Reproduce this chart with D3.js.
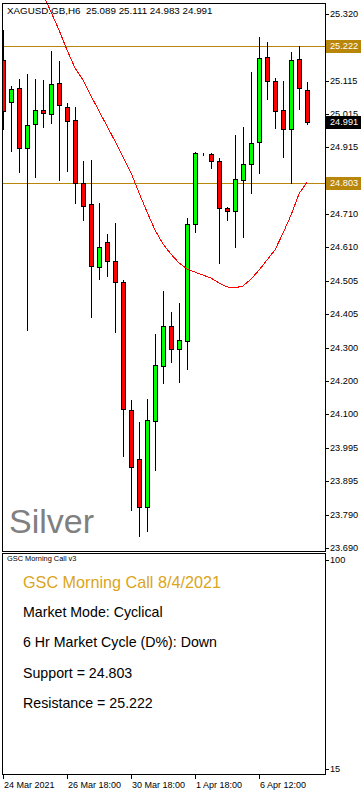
<!DOCTYPE html>
<html>
<head>
<meta charset="utf-8">
<style>
  body { margin: 0; background: #fff; }
  svg { display: block; font-family: "Liberation Sans", Arial, sans-serif; }
  .wick, .frame, .tick { shape-rendering: crispEdges; }
</style>
</head>
<body>
<script src="https://cdn.jsdelivr.net/npm/d3@7"></script>
<script>

const width = 364;
const height = 792;

// quote header
const symbolName = 'XAGUSD.GB,H6';

// H6 candles, oldest first
const opens  = [25.180, 25.051, 25.094, 24.911, 24.984, 25.027, 25.015, 25.109, 25.036, 24.996,
                24.804, 24.740, 24.548, 24.624, 24.566, 24.502, 24.111, 23.961, 23.815, 24.077,
                24.245, 24.367, 24.297, 24.322, 24.679, 24.893, 24.893, 24.871, 24.728, 24.719,
                24.813, 24.862, 24.929, 25.189, 25.116, 25.027, 24.969, 25.183, 25.089];
const highs  = [25.271, 25.100, 25.122, 25.137, 25.122, 25.119, 25.207, 25.177, 25.048, 25.036,
                24.871, 24.874, 24.743, 24.648, 24.682, 24.508, 24.142, 24.074, 24.145, 24.343,
                24.474, 24.410, 24.438, 24.697, 24.899, 24.896, 24.896, 24.880, 24.731, 24.951,
                24.975, 25.143, 25.250, 25.235, 25.125, 25.116, 25.204, 25.222, 25.111];
const lows   = [24.969, 24.902, 24.838, 24.355, 24.822, 24.975, 24.987, 24.813, 24.841, 24.743,
                24.691, 24.395, 24.511, 24.520, 24.349, 23.971, 23.806, 23.726, 23.742, 23.928,
                24.193, 24.258, 24.196, 24.236, 24.654, 24.890, 24.850, 24.560, 24.691, 24.609,
                24.639, 24.774, 24.835, 25.061, 24.972, 24.883, 24.804, 25.030, 24.983];
const closes = [25.024, 25.091, 24.911, 24.981, 25.027, 25.018, 25.106, 25.042, 24.993, 24.804,
                24.734, 24.551, 24.609, 24.566, 24.502, 24.114, 23.937, 23.815, 24.081, 24.248,
                24.367, 24.297, 24.325, 24.679, 24.896, 24.893, 24.871, 24.728, 24.719, 24.816,
                24.862, 24.926, 25.186, 25.116, 25.024, 24.969, 25.180, 25.094, 24.991];

// moving average (red), null where it is off the top of the chart
const movingAvg = [null, null, null, 25.491, 25.436, 25.381, 25.326, 25.271, 25.210, 25.155,
                   25.119, 25.070, 25.024, 24.978, 24.932, 24.883, 24.835, 24.774, 24.716, 24.661,
                   24.618, 24.587, 24.560, 24.542, 24.532, 24.523, 24.514, 24.499, 24.487, 24.484,
                   24.490, 24.511, 24.538, 24.569, 24.600, 24.651, 24.706, 24.771, 24.807];

const priceTicks = [25.320, 25.115, 25.015, 24.915, 24.710, 24.610, 24.505, 24.405, 24.300,
                    24.200, 24.100, 23.995, 23.895, 23.790, 23.690];
const resistance = 25.222;
const support = 24.803;

const timeTickIndex = [0, 8, 16, 24, 32];
const timeTickLabels = ['24 Mar 2021', '26 Mar 18:00', '30 Mar 18:00', '1 Apr 18:00', '6 Apr 12:00'];

const panelTicks = [100, 15];
const panelName = 'GSC Morning Call v3';
const panelTitle = 'GSC Morning Call 8/4/2021';
const panelLines = ['Market Mode: Cyclical', '6 Hr Market Cycle (D%): Down',
                    'Support = 24.803', 'Resistance = 25.222'];

const gold = '#b8860b';

const svg = d3.select('body').append('svg')
    .attr('width', width)
    .attr('height', height);

const x = d3.scaleLinear().domain([0, opens.length - 1]).range([3, 307]);
const y = d3.scaleLinear().domain([23.690, 25.320]).range([548, 14]);
const yPanel = d3.scaleLinear().domain([15, 100]).range([769, 560]);

const px = v => Math.round(v) + 0.5;

svg.append('clipPath').attr('id', 'main-clip')
    .append('rect').attr('x', 3).attr('y', 0).attr('width', 322).attr('height', 551);

const plot = svg.append('g').attr('clip-path', 'url(#main-clip)');

// support / resistance
[resistance, support].forEach(level => {
    plot.append('line')
        .attr('class', 'tick')
        .attr('x1', 2).attr('x2', 326)
        .attr('y1', px(y(level))).attr('y2', px(y(level)))
        .style('stroke', gold);
});

// "Silver" watermark
plot.append('text')
    .attr('x', 9).attr('y', 533)
    .style('font-size', '34px')
    .style('fill', '#808080')
    .text('Silver');

// candles
const candles = plot.selectAll('g.candle')
    .data(opens.map((o, i) => ({ i, o, h: highs[i], l: lows[i], c: closes[i] })))
    .join('g')
        .attr('class', 'candle');

candles.append('line')
    .attr('class', 'wick')
    .attr('x1', d => px(x(d.i))).attr('x2', d => px(x(d.i)))
    .attr('y1', d => Math.round(y(d.h))).attr('y2', d => Math.round(y(d.l)) + 1)
    .style('stroke', '#000');

candles.append('rect')
    .attr('class', 'wick')
    .attr('x', d => Math.round(x(d.i)) - 2 + 0.5)
    .attr('width', 4)
    .attr('y', d => px(y(Math.max(d.o, d.c))))
    .attr('height', d => Math.round(y(Math.min(d.o, d.c))) - Math.round(y(Math.max(d.o, d.c))))
    .style('fill', d => d.c >= d.o ? '#00ff00' : '#ff0000')
    .style('stroke', '#000');

// moving average
const maLine = d3.line()
    .defined(d => d != null)
    .x((d, i) => x(i))
    .y(d => y(d));

plot.append('path')
    .datum(movingAvg)
    .attr('d', maLine)
    .style('fill', 'none')
    .style('stroke', '#ff0000')
    .style('stroke-width', 1)
    .style('shape-rendering', 'crispEdges');

// frames
svg.append('rect').attr('class', 'frame')
    .attr('x', 2.5).attr('y', 3.5).attr('width', 323).attr('height', 548)
    .style('fill', 'none').style('stroke', '#000');
svg.append('rect').attr('class', 'frame')
    .attr('x', 2.5).attr('y', 553.5).attr('width', 323).attr('height', 221)
    .style('fill', 'none').style('stroke', '#000');

// header
svg.append('text')
    .attr('x', 7).attr('y', 14)
    .style('font-size', '9.8px')
    .style('white-space', 'pre')
    .text(`${symbolName}  ${opens.at(-1).toFixed(3)} ${highs.at(-1).toFixed(3)} ${lows.at(-1).toFixed(3)} ${closes.at(-1).toFixed(3)}`);

// price axis
const priceAxis = svg.append('g');
priceTicks.forEach(v => {
    priceAxis.append('line').attr('class', 'tick')
        .attr('x1', 326).attr('x2', 329)
        .attr('y1', px(y(v))).attr('y2', px(y(v)))
        .style('stroke', '#000');
    priceAxis.append('text')
        .attr('x', 330).attr('y', Math.round(y(v)))
        .attr('dy', '0.36em')
        .style('font-size', '9.2px')
        .text(v.toFixed(3));
});

const priceTag = (v, bg) => {
    const yy = Math.round(y(v));
    priceAxis.append('rect')
        .attr('x', 326).attr('y', yy - 6)
        .attr('width', 35).attr('height', 13)
        .style('fill', bg);
    priceAxis.append('text')
        .attr('x', 330).attr('y', yy)
        .attr('dy', '0.36em')
        .style('font-size', '9.2px')
        .style('fill', '#fff')
        .text(v.toFixed(3));
};
priceTag(resistance, gold);
priceTag(closes.at(-1), '#000');
priceTag(support, gold);

// indicator panel
panelTicks.forEach(v => {
    svg.append('line').attr('class', 'tick')
        .attr('x1', 326).attr('x2', 329)
        .attr('y1', px(yPanel(v))).attr('y2', px(yPanel(v)))
        .style('stroke', '#000');
    svg.append('text')
        .attr('x', 330).attr('y', Math.round(yPanel(v)))
        .attr('dy', '0.36em')
        .style('font-size', '9.2px')
        .text(v);
});

svg.append('text')
    .attr('x', 7).attr('y', 561)
    .style('font-size', '7.4px')
    .text(panelName);

svg.append('text')
    .attr('x', 23).attr('y', 588)
    .style('font-size', '16.2px')
    .style('fill', '#daa520')
    .text(panelTitle);

svg.selectAll('text.panel-line')
    .data(panelLines)
    .join('text')
        .attr('class', 'panel-line')
        .attr('x', 23)
        .attr('y', (d, i) => 617 + i * 30.3)
        .style('font-size', '14.2px')
        .style('fill', '#000')
        .text(d => d);

// time axis
timeTickIndex.forEach((idx, k) => {
    const tx = Math.round(x(idx));
    svg.append('line').attr('class', 'tick')
        .attr('x1', tx + 0.5).attr('x2', tx + 0.5)
        .attr('y1', 775).attr('y2', 779)
        .style('stroke', '#000');
    svg.append('text')
        .attr('x', tx + 1).attr('y', 788)
        .style('font-size', '9px')
        .text(timeTickLabels[k]);
});

</script>
</body>
</html>
